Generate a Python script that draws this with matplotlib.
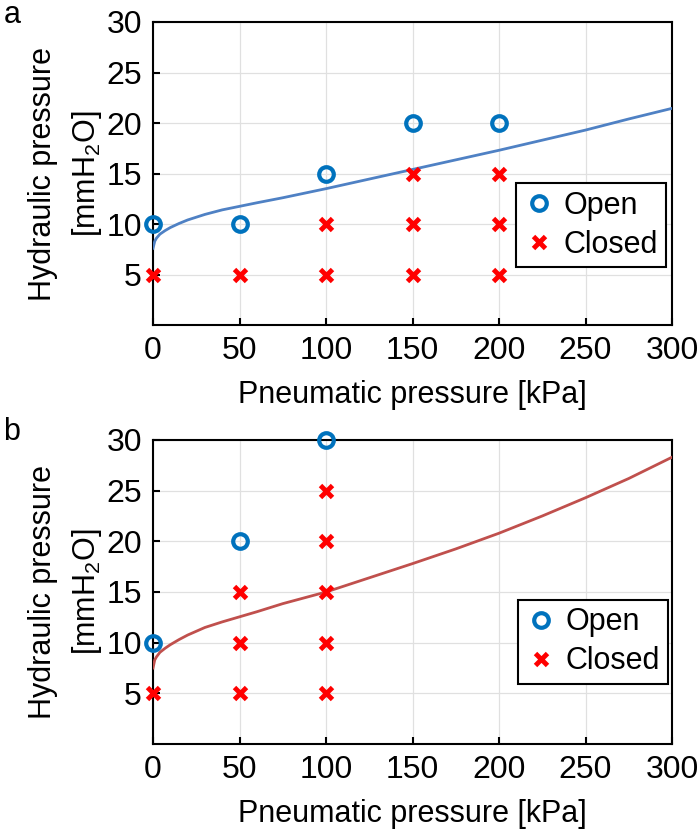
import matplotlib
matplotlib.use('Agg')
import matplotlib.pyplot as plt

plt.rcParams['font.family'] = ['Liberation Sans', 'DejaVu Sans']
plt.rcParams['mathtext.fontset'] = 'custom'
plt.rcParams['mathtext.rm'] = 'Liberation Sans'

# panel a
a_open_x = [0, 50, 100, 150, 200]
a_open_y = [10, 10, 15, 20, 20]
a_closed_x = [0, 50, 100, 100, 150, 150, 150, 200, 200, 200]
a_closed_y = [5, 5, 5, 10, 5, 10, 15, 5, 10, 15]
a_curve_x = [0, 1, 2, 4, 7, 10, 15, 20, 30, 40, 50, 60, 75, 100, 125, 150, 175, 200, 225, 250, 275, 300]
a_curve_y = [7.6, 8.3, 8.6, 9.0, 9.35, 9.65, 10.05, 10.4, 10.95, 11.4, 11.75, 12.1, 12.6, 13.5, 14.45, 15.4, 16.35, 17.3, 18.3, 19.3, 20.4, 21.45]

# panel b
b_open_x = [0, 50, 100]
b_open_y = [10, 20, 30]
b_closed_x = [0, 50, 50, 50, 100, 100, 100, 100, 100]
b_closed_y = [5, 5, 10, 15, 5, 10, 15, 20, 25]
b_curve_x = [0, 1, 2, 4, 7, 10, 15, 20, 30, 40, 50, 60, 75, 100, 125, 150, 175, 200, 225, 250, 275, 300]
b_curve_y = [7.5, 8.3, 8.6, 9.05, 9.45, 9.8, 10.3, 10.75, 11.5, 12.05, 12.55, 13.05, 13.85, 15.0, 16.4, 17.8, 19.25, 20.8, 22.5, 24.3, 26.2, 28.3]

xticks = [0, 50, 100, 150, 200, 250, 300]
yticks = [5, 10, 15, 20, 25, 30]

fig = plt.figure(figsize=(7, 8.3), dpi=100)
ax_a = fig.add_axes([0.2186, 0.6084, 0.7414, 0.3651])
ax_b = fig.add_axes([0.2186, 0.1036, 0.7414, 0.3663])


def draw(ax, cx, cy, ccol, ox, oy, kx, ky, leg_anchor):
    ax.plot(cx, cy, color=ccol, lw=2, zorder=3)
    ax.plot(ox, oy, 'o', ms=10.5, mfc='none', mec='#0072BD', mew=3,
            clip_on=False, zorder=5, label='Open')
    ax.plot(kx, ky, 'x', ms=9, mec='#FF0000', mew=3.5,
            clip_on=False, zorder=5, label='Closed')
    ax.set_xlim(0, 300)
    ax.set_ylim(0, 30)
    ax.set_xticks(xticks)
    ax.set_yticks(yticks)
    ax.grid(True, color='#e0e0e0', lw=0.9)
    ax.set_axisbelow(True)
    for s in ax.spines.values():
        s.set_linewidth(1.5)
    ax.tick_params(direction='in', length=5, width=1.5, labelsize=23,
                   pad=8)
    ax.set_xlabel('Pneumatic pressure [kPa]', fontsize=22, labelpad=10)
    ax.set_ylabel('Hydraulic pressure\n[mmH$_2$O]', fontsize=22,
                  labelpad=2, linespacing=1.45)
    leg = ax.legend(loc='lower right', bbox_to_anchor=leg_anchor,
                    fontsize=22, fancybox=False, edgecolor='black',
                    framealpha=1, handletextpad=0.3, borderpad=0.25,
                    labelspacing=0.3, handlelength=1.0, borderaxespad=0)
    leg.get_frame().set_linewidth(1.5)


draw(ax_a, a_curve_x, a_curve_y, '#4F81C4', a_open_x, a_open_y,
     a_closed_x, a_closed_y, (0.988, 0.19))
draw(ax_b, b_curve_x, b_curve_y, '#C0504D', b_open_x, b_open_y,
     b_closed_x, b_closed_y, (0.992, 0.197))

fig.text(0.005, 0.982, 'a', fontsize=22, va='center', ha='left')
fig.text(0.005, 0.4795, 'b', fontsize=22, va='center', ha='left')

fig.savefig('out.png', dpi=100)
